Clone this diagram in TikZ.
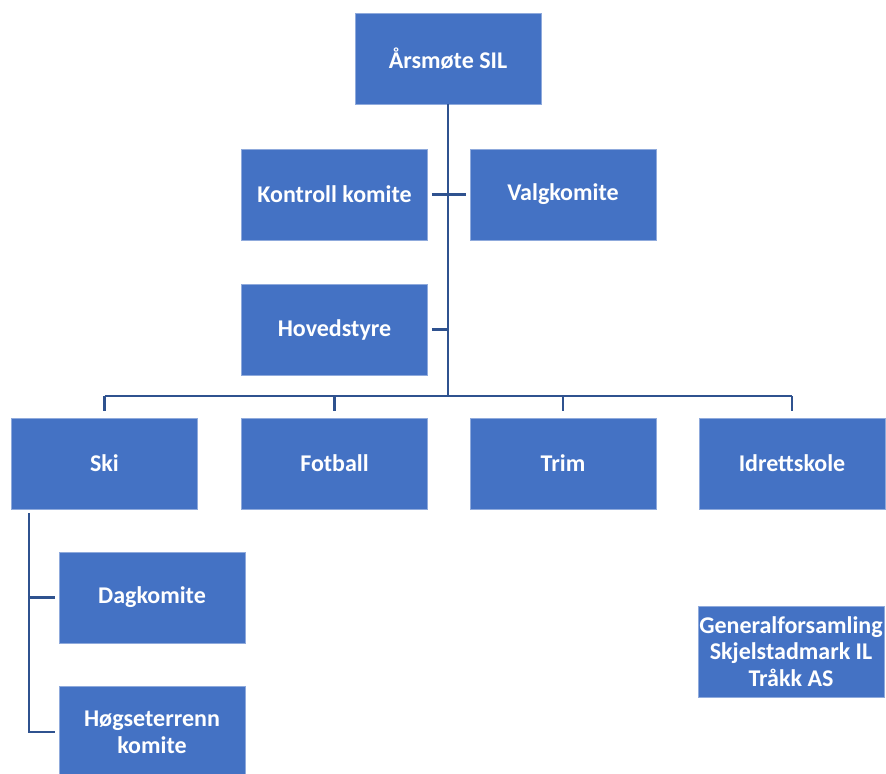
\documentclass[tikz,border=0pt]{standalone}
\usepackage{fontspec}
\setmainfont{Carlito}
\tikzset{every picture/.style={line width=0.75pt}}
\tikzset{
  orgbox/.style={draw={rgb, 255:red, 143; green, 170; blue, 220 }, line width=0.6, fill={rgb, 255:red, 68; green, 114; blue, 196 }, text=white, font=\fontsize{18}{20}\selectfont\bfseries, align=center, inner sep=0pt, minimum width=139.5pt, minimum height=68.25pt},
  orgline/.style={draw={rgb, 255:red, 47; green, 82; blue, 143 }, line width=2pt}
}

\begin{document}
\begin{tikzpicture}[x=0.75pt,y=0.75pt,yscale=-1,xscale=1]
	\useasboundingbox (0,0) rectangle (886,774);

	%Shape: Rectangle [id:aars] 
	\node [orgbox] (aars) at (448,58.5) {Årsmøte SIL};
	%Shape: Rectangle [id:kontroll] 
	\node [orgbox] (kontroll) at (334.5,194.5) {Kontroll komite};
	%Shape: Rectangle [id:valg] 
	\node [orgbox] (valg) at (563,194.5) {Valgkomite};
	%Shape: Rectangle [id:hoved] 
	\node [orgbox] (hoved) at (334.5,329.5) {Hovedstyre};
	%Shape: Rectangle [id:ski] 
	\node [orgbox] (ski) at (104.5,463.5) {Ski};
	%Shape: Rectangle [id:fotball] 
	\node [orgbox] (fotball) at (334.5,463.5) {Fotball};
	%Shape: Rectangle [id:trim] 
	\node [orgbox] (trim) at (563,463.5) {Trim};
	%Shape: Rectangle [id:idrett] 
	\node [orgbox] (idrett) at (792,463.5) {Idrettskole};
	%Shape: Rectangle [id:dag] 
	\node [orgbox] (dag) at (152,597.5) {Dagkomite};
	%Shape: Rectangle [id:hog] 
	\node [orgbox] (hog) at (152,732) {Høgseterrenn\\komite};
	%Shape: Rectangle [id:general] 
	\node [orgbox] (general) at (791,651.5) {Generalforsamling\\Skjelstadmark IL\\Tråkk AS};

	%Straight Lines [id:trunk] 
	\coordinate (bar) at (448,396);
	\draw [orgline] (aars.south) -- (bar);
	\draw [orgline, shorten <=3, shorten >=3] (kontroll.east) -- (valg.west);
	\draw [orgline, shorten <=3] (hoved.east) -- (hoved.east -| bar);
	%Straight Lines [id:bar] 
	\draw [orgline] (ski.north |- bar) -- (idrett.north |- bar);
	\foreach \n in {ski,fotball,trim,idrett}
		\draw [orgline, shorten >=5] (\n.north |- bar) -- (\n.north);
	%Straight Lines [id:skiline] 
	\coordinate (skitop) at (29,513);
	\draw [orgline, shorten >=3] (skitop) |- (hog.west);
	\draw [orgline, shorten >=3] (skitop |- dag.west) -- (dag.west);

\end{tikzpicture}
\end{document}
